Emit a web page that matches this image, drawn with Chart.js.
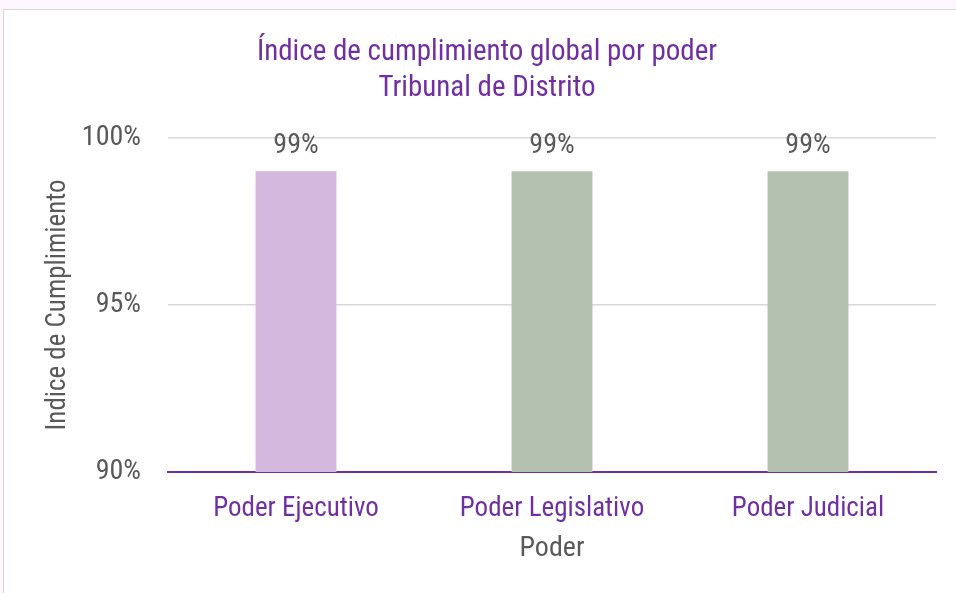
<!DOCTYPE html>
<html>
<head>
<meta charset="utf-8">
<script src="https://cdn.jsdelivr.net/npm/chart.js@4/dist/chart.umd.min.js"></script>
<style>
  html, body { margin: 0; padding: 0; width: 956px; height: 593px; overflow: hidden; background: #fdf7fb; }
  #frame { position: absolute; left: 3px; top: 9px; width: 980px; height: 620px; background: #ffffff; border: 1px solid #d9d9d9; }
  #wrap { position: absolute; left: 0; top: 0; width: 956px; height: 593px; }
</style>
</head>
<body>
<div id="frame"></div>
<div id="wrap"><canvas id="c" width="956" height="593"></canvas></div>
<script>
const categories = ["Poder Ejecutivo", "Poder Legislativo", "Poder Judicial"];
const values = [0.99, 0.99, 0.99];
const dataLabels = ["99%", "99%", "99%"];
const barColors = ["#D5B8DE", "#B3C0AF", "#B3C0AF"];
const titleLines = ["Índice de cumplimiento global por poder", "Tribunal de Distrito"];
const yTitle = "Indice de Cumplimiento";
const xTitle = "Poder";

const FONT = "'Liberation Sans Narrow', 'Arial Narrow', 'Roboto Condensed', 'Liberation Sans', sans-serif";
const PURPLE = "#7030A0";
const GRAY = "#595959";

const labelPlugin = {
  id: 'valueLabels',
  afterDatasetsDraw(chart) {
    const ctx = chart.ctx;
    const meta = chart.getDatasetMeta(0);
    ctx.save();
    ctx.font = "28px " + FONT;
    ctx.fillStyle = GRAY;
    ctx.textAlign = 'center';
    ctx.textBaseline = 'middle';
    meta.data.forEach((bar, i) => {
      ctx.fillText(dataLabels[i], bar.x, bar.y - 25);
    });
    ctx.restore();
  }
};

new Chart(document.getElementById('c'), {
  type: 'bar',
  data: {
    labels: categories,
    datasets: [{
      data: values,
      backgroundColor: barColors,
      borderWidth: 0,
      barPercentage: 0.316,
      categoryPercentage: 1.0
    }]
  },
  options: {
    responsive: false,
    animation: false,
    devicePixelRatio: 1,
    layout: { padding: { left: 38, right: 20, top: 0, bottom: 27 } },
    plugins: {
      legend: { display: false },
      tooltip: { enabled: false },
      title: {
        display: true,
        text: titleLines,
        color: PURPLE,
        font: { family: FONT, size: 29, weight: 'normal', lineHeight: 1.24 },
        padding: { top: 35, bottom: 31 }
      }
    },
    scales: {
      x: {
        afterFit(scale) { scale.height = 94; },
        grid: { display: false, drawTicks: false },
        border: { display: true, color: PURPLE, width: 2 },
        ticks: { color: PURPLE, font: { family: FONT, size: 27 }, padding: 21 },
        title: { display: true, text: xTitle, color: GRAY, font: { family: FONT, size: 28 }, padding: { top: 0, bottom: 0 } }
      },
      y: {
        min: 0.9,
        max: 1.0,
        afterFit(scale) { scale.width = 130; },
        ticks: {
          stepSize: 0.05,
          color: GRAY,
          font: { family: FONT, size: 28 },
          padding: 27,
          callback: v => Math.round(v * 100) + "%"
        },
        grid: { color: "#d9d9d9", lineWidth: 1.5, drawTicks: false },
        border: { display: false },
        title: { display: true, text: yTitle, color: GRAY, font: { family: FONT, size: 27 }, padding: { top: 4, bottom: 0 } }
      }
    }
  },
  plugins: [labelPlugin]
});
</script>
</body>
</html>
